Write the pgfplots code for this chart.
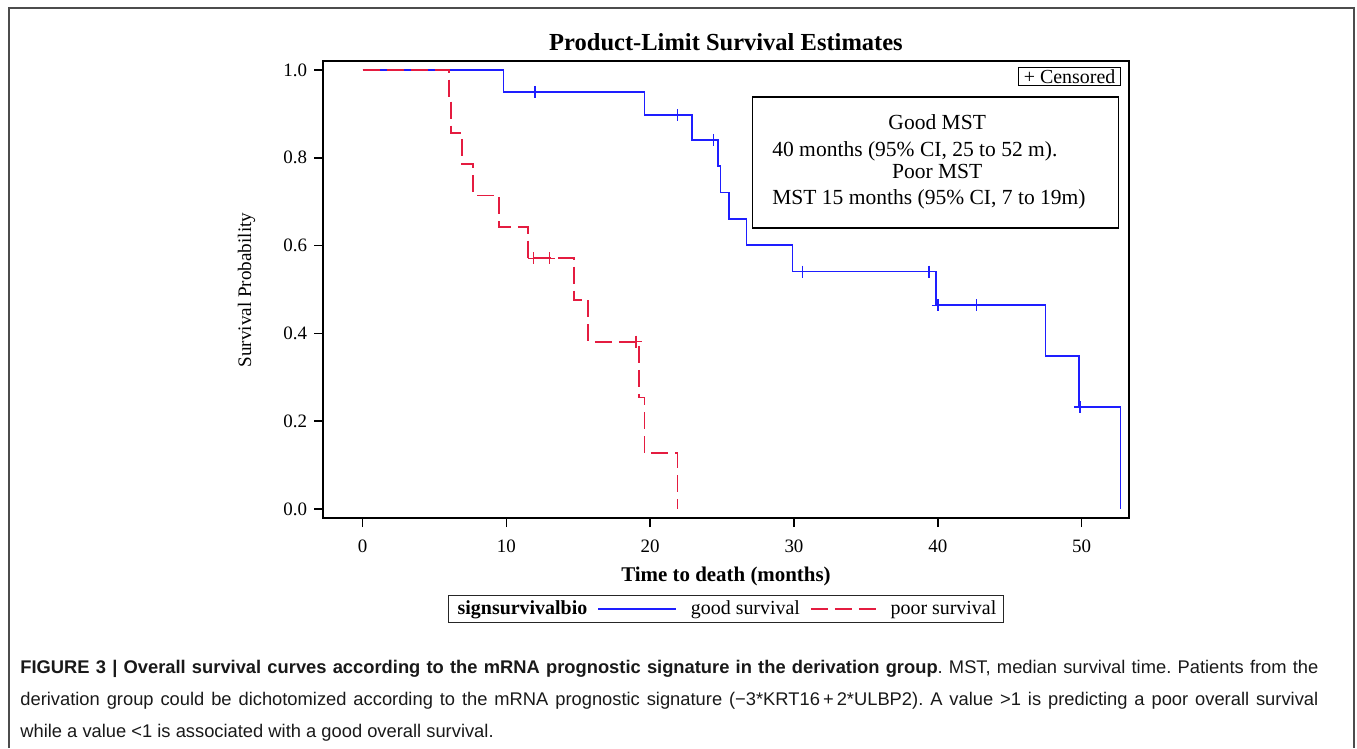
\documentclass[border=0pt]{standalone}
\usepackage{fontspec}
\setmainfont{Liberation Serif}
\newfontfamily\capfont{Liberation Sans}
\usepackage{pgfplots}
\pgfplotsset{compat=1.18}
\definecolor{goodblue}{RGB}{30,30,255}
\definecolor{poorred}{RGB}{228,28,64}
\pgfplotsset{
  long legend/.style={legend image code/.code={\draw[##1] (0bp,0bp) -- (39bp,0bp);}},
  short legend/.style={legend image code/.code={\draw[##1] (0bp,0bp) -- (32.5bp,0bp);}},
}

\begin{document}
\begin{tikzpicture}[x=1bp,y=1bp]
\useasboundingbox (0,0) rectangle (678.5,374);
% outer figure frame (open at the bottom, as in the page crop)
\draw[line width=0.8bp, black!70] (4.5,0) -- (4.5,370) -- (677,370) -- (677,0);

\begin{axis}[
  at={(161.5bp,115bp)}, anchor=south west,
  scale only axis, width=403bp, height=228.5bp,
  xmin=-2.75, xmax=53.3, ymin=-0.0205, ymax=1.0205,
  xtick={0,10,20,30,40,50},
  ytick={0,0.2,0.4,0.6,0.8,1},
  tick align=outside, tick pos=left,
  major tick length=4.5bp,
  axis line style={line width=0.8bp},
  every tick/.style={black, line width=0.8bp},
  ticklabel style={font=\fontsize{9.5}{11}\selectfont},
  /pgf/number format/assume math mode=true,
  yticklabel style={/pgf/number format/fixed, /pgf/number format/fixed zerofill, /pgf/number format/precision=1},
  xticklabel style={yshift=-3bp},
  clip=false,
  legend style={at={(rel axis cs:0.5,-0.199)}, anchor=center,
    legend columns=-1, draw=black!85, line width=0.7bp,
    font=\fontsize{10}{12}\selectfont,
    inner xsep=1.5bp, inner ysep=0.5bp,
    /tikz/every odd column/.append style={column sep=5bp},
    /tikz/every even column/.append style={column sep=3bp}},
]

% legend header
\addlegendimage{empty legend}
\addlegendentry{\hspace*{-4bp}\textbf{signsurvivalbio}}

% good survival: Kaplan-Meier steps
\addplot[goodblue, line width=0.85bp, const plot mark left, long legend] coordinates {
  (0,1) (9.8,0.95) (19.6,0.897) (22.9,0.841) (24.7,0.781) (24.9,0.721)
  (25.5,0.661) (26.7,0.601) (29.9,0.541) (39.9,0.464) (47.5,0.348)
  (49.8,0.232) (52.7,0)
};
\addlegendentry{good survival}

% poor survival: Kaplan-Meier steps
\addplot[poorred, line width=0.85bp, dash pattern=on 8.5bp off 3.5bp, const plot mark left, short legend] coordinates {
  (0,1) (6.0,0.929) (6.15,0.857) (6.9,0.786) (7.7,0.714) (9.5,0.643)
  (11.5,0.571) (14.7,0.476) (15.7,0.381) (19.2,0.254) (19.6,0.127) (21.9,0)
};
\addlegendentry{poor survival}

% censored observations
\addplot[goodblue, only marks, mark=+, mark size=3bp, line width=0.75bp, forget plot] coordinates {
  (12.0,0.95) (21.9,0.897) (24.4,0.841) (30.6,0.541) (39.4,0.541)
  (40.0,0.464) (42.7,0.464) (49.9,0.232)
};
\addplot[poorred, only marks, mark=+, mark size=3bp, line width=0.75bp, forget plot] coordinates {
  (11.9,0.571) (13.0,0.571) (19.0,0.381)
};

% titles and labels
\node[font=\fontsize{12.3}{14}\selectfont\bfseries] at (rel axis cs:0.5,1.0416) {Product-Limit Survival Estimates};
\node[font=\fontsize{10.5}{12}\selectfont\bfseries] at (rel axis cs:0.5,-0.127) {Time to death (months)};
\node[rotate=90, font=\fontsize{9.6}{11}\selectfont] at (rel axis cs:-0.095,0.499) {Survival Probability};

% censored key
\node[draw, line width=0.6bp, anchor=north east, inner xsep=2.5bp, inner ysep=1bp,
      font=\fontsize{10}{12}\selectfont] at (rel axis cs:0.990,0.987) {+ Censored};

% MST box
\draw[line width=0.8bp] (rel axis cs:0.533,0.635) rectangle (rel axis cs:0.987,0.921);
\begin{scope}[every node/.style={font=\fontsize{10.8}{13}\selectfont, inner sep=0pt}]
\node[anchor=center] at (rel axis cs:0.762,0.866) {Good MST};
\node[anchor=west] at (rel axis cs:0.557,0.803) {40 months (95\% CI, 25 to 52 m).};
\node[anchor=center] at (rel axis cs:0.762,0.759) {Poor MST};
\node[anchor=west] at (rel axis cs:0.557,0.698) {MST 15 months (95\% CI, 7 to 19m)};
\end{scope}
\end{axis}

% figure caption
\node[anchor=north west, inner sep=0pt, text width=649bp, align=justify,
      font=\capfont\fontsize{9.2}{16}\selectfont\frenchspacing, text=black!90] at (10bp,44bp)
  {\textbf{FIGURE 3 | Overall survival curves according to the mRNA prognostic signature in the derivation group}. MST, median survival time. Patients from the\linebreak
   derivation group could be dichotomized according to the mRNA prognostic signature (−3*KRT16\,+\,2*ULBP2). A value >1 is predicting a poor overall survival\linebreak
   while a value <1 is associated with a good overall survival.};
\end{tikzpicture}
\end{document}
